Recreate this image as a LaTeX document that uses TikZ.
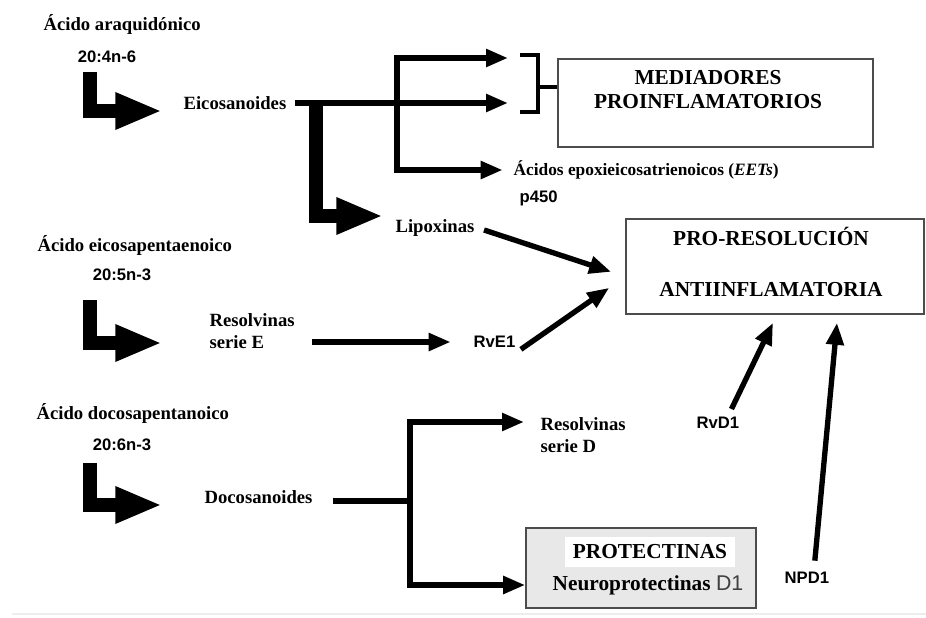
\documentclass[tikz,border=0pt]{standalone}
\usepackage{fontspec}
\setmainfont{Liberation Serif}
\setsansfont{Liberation Sans}
\usetikzlibrary{arrows.meta}

\begin{document}
\begin{tikzpicture}
        [%%%%%%%%%%%%%%%%%%%%%%%%%%%%%%
        x=0.75pt, y=-0.75pt,
        lbl/.style={font=\bfseries\fontsize{14}{16}\selectfont, inner sep=1pt, align=left, anchor=west},
        num/.style={font=\sffamily\bfseries\fontsize{12.5}{14}\selectfont, inner sep=1pt},
        ttl/.style={font=\bfseries\fontsize{16}{18}\selectfont, inner sep=1pt, align=center},
        box/.style={rectangle, draw=black!70, line width=1.2pt},
        link/.style={line width=4pt},
        brk/.style={line width=2.5pt},
        arr/.style={line width=4pt, -{Triangle[length=16.5pt,width=12.75pt]}},
        bigarr/.style={line width=10.5pt, -{Triangle[length=35pt,width=25.5pt]}},
        ]%%%%%%%%%%%%%%%%%%%%%%%%%%%%%%

        \useasboundingbox (0,0) rectangle (926,618);
        \draw[black!7, line width=1pt] (12,614) -- (926,614);

        % precursores
        \node[lbl] (aa) at (42,24) {Ácido araquidónico};
        \node[num] (aanum) at (107,57) {20:4n-6};
        \node[lbl] (ae) at (36,245) {Ácido eicosapentaenoico};
        \node[num] (aenum) at (122,275) {20:5n-3};
        \node[lbl] (ad) at (35,413) {Ácido docosapentanoico};
        \node[num] (adnum) at (122,445) {20:6n-3};

        \foreach \n/\yt/\yb in {1/72/111, 2/300/343, 3/463/505}{
          \coordinate (l\n s) at (90,\yt);
          \coordinate (l\n e) at (162,\yb);
          \draw[bigarr] (l\n s) |- (l\n e);
        }

        % productos
        \node[lbl] (eico) at (182,103) {Eicosanoides};
        \node[lbl] (lipo) at (394,228) {Lipoxinas};
        \node[lbl, font=\bfseries\fontsize{13}{15}\selectfont] (eets) at (512,170) {Ácidos epoxieicosatrienoicos (\textit{EETs})};
        \node[num, anchor=west] (p450) at (518,198) {p450};
        \node[lbl] (rese) at (208,331) {Resolvinas\\serie E};
        \node[num, anchor=west] (rve) at (472,342) {RvE1};
        \node[lbl] (doco) at (203,497) {Docosanoides};
        \node[lbl] (resd) at (539,435) {Resolvinas\\serie D};
        \node[num, anchor=west] (rvd) at (695,423) {RvD1};
        \node[num, anchor=west] (npd) at (783,578) {NPD1};

        % cajas
        \node[box, minimum width=236.25pt, minimum height=66pt] (med) at (715.5,103) {};
        \node[ttl] (medtxt) at (708,90) {MEDIADORES\\PROINFLAMATORIOS};
        \node[box, minimum width=223.5pt, minimum height=71.25pt] (pro) at (775,266.5) {};
        \node[ttl] (protxt) at (771,262) {PRO-RESOLUCIÓN\\[20pt]ANTIINFLAMATORIA};
        \node[box, fill=black!9, minimum width=172.5pt, minimum height=60pt] (protbox) at (641,568) {};
        \node[ttl, fill=white, minimum width=127.5pt, minimum height=22.5pt] (prot) at (650,552) {PROTECTINAS};
        \node[ttl] (neuro) at (648,585) {Neuroprotectinas {\sffamily\mdseries\color{black!75}D1}};

        % eicosanoides
        \coordinate (ebr) at (397,103);
        \coordinate (m1) at (508,58);
        \coordinate (m2) at (508,103);
        \draw[arr, shorten <=5pt] (eico.east) -- (m2);
        \draw[arr] (ebr) |- (m1);
        \draw[arr, shorten >=7pt] (ebr) |- (eets.west);
        \coordinate (lbs) at (316,101);
        \coordinate (lbe) at (383,216);
        \draw[bigarr] (lbs) |- (lbe);

        % corchete
        \coordinate (k1) at (520,55);
        \coordinate (k2) at (520,112);
        \coordinate (kc) at (538,87);
        \draw[brk] (k1) -| (538,112) -- (k2);
        \draw[brk] (kc) -- (kc -| med.west);

        % hacia pro-resolucion
        \draw[arr] ([xshift=6pt,yshift=-1.5pt]lipo.east) -- ([xshift=-10.5pt,yshift=-4pt]pro.west);
        \draw[arr, shorten <=12pt, shorten >=16pt] (rese.east |- rve.west) -- (rve.west);
        \draw[arr] ([xshift=3pt]rve.south east) -- ([xshift=-12pt,yshift=-16pt]pro.west);
        \draw[arr] ([xshift=-7pt,yshift=5pt]rvd.north east) -- ([xshift=-1.5pt,yshift=-6pt]pro.south);
        \draw[arr] ([xshift=6pt,yshift=7.5pt]npd.north) -- ([xshift=46.5pt,yshift=-6pt]pro.south);

        % docosanoides
        \coordinate (dbr) at (410,501);
        \coordinate (rsdin) at (524,422);
        \draw[link, shorten <=14pt] (doco.east |- dbr) -- (dbr);
        \draw[arr] (dbr) |- (rsdin);
        \draw[arr] (dbr) |- (protbox.west |- neuro);

      \end{tikzpicture}
\end{document}
